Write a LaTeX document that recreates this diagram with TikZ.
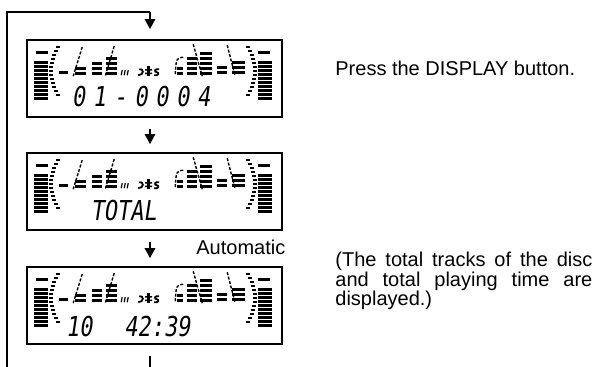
\documentclass[tikz,border=0pt]{standalone}
\usepackage{fontspec}
\setmainfont{Liberation Sans}
\newfontfamily\lcdfont[FakeSlant=0.15,FakeStretch=0.8]{DejaVu Sans Mono}
\usetikzlibrary{arrows.meta, positioning, calc}
\hyphenpenalty=10000
\exhyphenpenalty=10000
\tikzset{
  lcdbox/.style={rectangle, draw, line width=0.8pt,
    minimum width=127.5pt, minimum height=38.5pt, inner sep=0pt},
  loopline/.style={line width=1pt},
  flow/.style={line width=1.3pt, -{Triangle[width=5pt,length=5pt]}},
  seg/.style={line width=0.7pt, dash pattern=on 1.5pt off 0.8pt},
  tick/.style={line width=1pt},
  lcdtext/.style={font=\lcdfont\fontsize{13.7}{14}\selectfont, inner sep=0pt},
  caption/.style={font=\fontsize{10}{9.8}\selectfont, inner sep=0pt, anchor=west}
}
% segments of the display, drawn from its top left corner
\newcommand{\lcdsegments}{%
  % level stacks at both ends
  \foreach \k in {0,...,9} {
    \fill (8,{22+4*\k}) rectangle ++(14,3);
    \fill (232,{22+4*\k}) rectangle ++(14,3);
  }
  \fill (10,12) rectangle ++(12,3);
  \fill (232,12) rectangle ++(12,3);
  % curved tick columns
  \foreach \k in {0,...,12} {
    \pgfmathsetmacro\dx{7*(\k-6)*(\k-6)/36}
    \draw[tick] ({23+\dx},{8+4*\k}) -- ++(4,0);
    \draw[tick] ({231-\dx},{8+4*\k}) -- ++(-4,0);
  }
  % left groups
  \fill (33,32) rectangle ++(9,3);
  \foreach \y in {28,33} \fill (49,\y) rectangle ++(11,3);
  \draw[seg] (56,8) -- (47,37);
  \foreach \y in {23,28,33} \fill (66,\y) rectangle ++(10,3);
  \foreach \y in {18,23,28,33} \fill (80,\y) rectangle ++(11,3);
  \draw[seg] (88,7) -- (79,37);
  % small marks in the middle
  \draw[line width=0.6pt] (96,31) -- (95,36) (99,31) -- (98,36) (102,31) -- (101,36);
  \draw[line width=0.9pt] (113,30) .. controls (118,29) and (118,36) .. (112,36);
  \fill (121,27) rectangle (124,37);
  \fill (119,30) rectangle (126,31.5) (119,33.5) rectangle (126,35);
  \draw[line width=0.9pt] (133,30) .. controls (128,29) and (128,33) .. (130.5,33)
    .. controls (133,33) and (133,37) .. (128,36);
  % right groups
  \draw[seg] (157,18) .. controls (150,19) .. (149,36);
  \foreach \y in {28,33} \fill (151,\y) rectangle ++(6,2.5);
  \foreach \y in {18,23,28,33} \fill (161,\y) rectangle ++(10,3);
  \foreach \y in {13,18,23,28,33} \fill (174,\y) rectangle ++(12,3);
  \draw[seg] (167,5) -- (176,37);
  \foreach \y in {27,32} \fill (191,\y) rectangle ++(10,3);
  \foreach \y in {22,27,32} \fill (206,\y) rectangle ++(13,3);
  \draw[seg] (201,6) -- (209,37);
}

\begin{document}
\begin{tikzpicture}[x=0.5pt, y=-0.5pt]
  \useasboundingbox (0,0) rectangle (598,367);

  % Displays
  \node[lcdbox] (b1) at (154.5,78.5) {};
  \node[lcdbox] (b2) at (154.5,191.5) {};
  \node[lcdbox] (b3) at (154.5,305.5) {};
  \foreach \b in {b1,b2,b3} {
    \begin{scope}[shift={(\b.north west)}]
      \lcdsegments
    \end{scope}
  }
  \node[lcdtext] (t1) at (141,97) {\addfontfeature{LetterSpace=28}01-0004};
  \node[lcdtext] (t2) at (123.5,211) {TOTAL};
  \node[lcdtext] (t3) at (128,327) {10\hspace{16pt}42:39};

  % Loop and arrows
  \coordinate (ax) at (150,0);
  \coordinate (lt) at (7,12);
  \coordinate (lb) at (7,367);
  \draw[loopline] (lb) -- (lt) -- (lt -| ax);
  \draw[flow, shorten >=5pt] (lt -| ax) -- (b1.north -| ax);
  \draw[flow, shorten <=5.5pt, shorten >=4pt] (b1.south -| ax) -- (b2.north -| ax);
  \draw[flow, shorten <=5.5pt, shorten >=4pt] (b2.south -| ax) -- (b3.north -| ax);
  \draw[flow, -, shorten <=5.5pt] (b3.south -| ax) -- (lb -| ax);

  % Texts
  \node[caption] (press) at (335,68) {Press the DISPLAY button.};
  \node[caption] (auto) at (196,247) {Automatic};
  \node[caption, text width=128.5pt, align=justify] (note) at (335,281)
    {(The total tracks of the disc and total playing time are displayed.)};
\end{tikzpicture}
\end{document}
